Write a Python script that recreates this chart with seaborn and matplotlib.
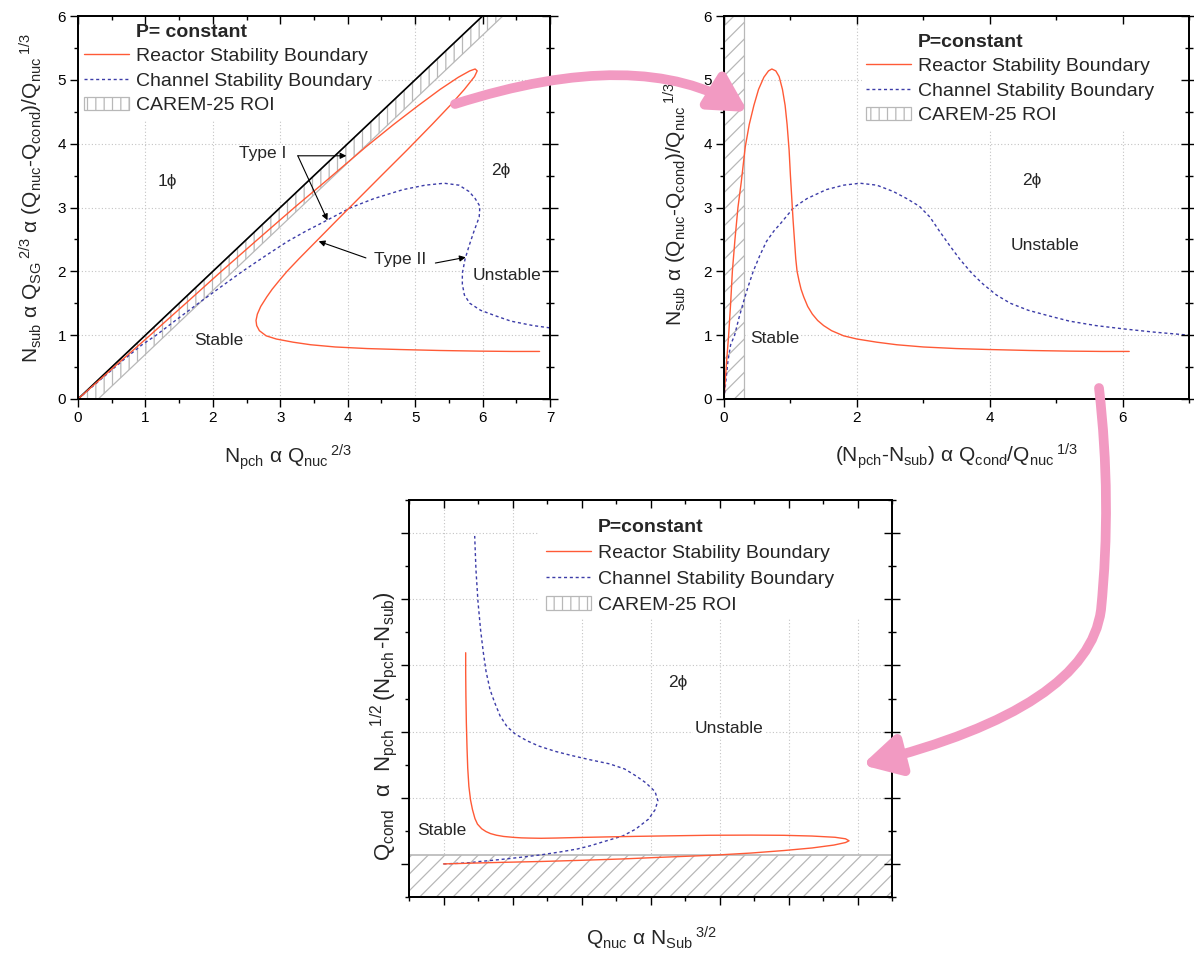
import numpy as np
import pandas as pd
import matplotlib
matplotlib.use("Agg")
import matplotlib.pyplot as plt
import seaborn as sns
from matplotlib.lines import Line2D
from matplotlib.patches import Patch, Rectangle, FancyArrowPatch, ArrowStyle
from matplotlib.path import Path

# Stability boundaries in the (N_pch - N_sub, N_sub) plane
reactor_dn = [0.00, 0.02, 0.04, 0.07, 0.10, 0.126, 0.165, 0.21, 0.26, 0.32, 0.38, 0.45,
              0.52, 0.60, 0.67, 0.72, 0.78, 0.83, 0.88, 0.92, 0.95, 0.98, 1.00, 1.02,
              1.04, 1.06, 1.08, 1.10, 1.13, 1.16, 1.20, 1.26, 1.33, 1.41, 1.50, 1.62,
              1.80, 2.00, 2.30, 2.60, 3.00, 3.50, 4.00, 4.60, 5.20, 5.70, 6.10]
reactor_nsub = [0.00, 0.30, 0.60, 1.00, 1.50, 2.00, 2.50, 3.00, 3.40, 3.95, 4.30, 4.60,
                4.85, 5.04, 5.14, 5.17, 5.14, 5.05, 4.85, 4.60, 4.30, 3.90, 3.50, 3.15,
                2.80, 2.50, 2.20, 2.00, 1.85, 1.72, 1.60, 1.45, 1.33, 1.23, 1.15, 1.07,
                0.99, 0.94, 0.89, 0.85, 0.815, 0.79, 0.775, 0.76, 0.75, 0.745, 0.745]

channel_dn = [0.00, 0.03, 0.06, 0.10, 0.16, 0.22, 0.29, 0.36, 0.44, 0.54, 0.64, 0.75,
              0.86, 1.05, 1.25, 1.54, 1.80, 2.05, 2.30, 2.55, 2.75, 2.94, 3.10, 3.25,
              3.40, 3.55, 3.73, 3.90, 4.10, 4.31, 4.58, 4.90, 5.20, 5.60, 6.00, 6.45,
              7.00, 7.60, 8.20]
channel_nsub = [0.00, 0.30, 0.60, 0.85, 1.00, 1.25, 1.51, 1.75, 2.00, 2.25, 2.47, 2.63,
                2.76, 3.00, 3.14, 3.28, 3.35, 3.38, 3.35, 3.25, 3.14, 3.02, 2.85, 2.62,
                2.40, 2.19, 1.97, 1.80, 1.63, 1.50, 1.39, 1.30, 1.22, 1.15, 1.10, 1.05,
                1.00, 0.96, 0.935]

# CAREM-25 region of interest: N_pch - N_sub between these bounds
roi_dn = [0.0, 0.3]
roi_qcond_top = 0.135      # top of the ROI band in the (Q_nuc, Q_cond) plane

# arbitrary scaling of the power axes (Q_nuc ~ N_sub^3/2, Q_cond ~ N_pch^1/2 (N_pch - N_sub))
qnuc_scale = 0.5
qcond_scale = 0.2

legend_labels = ["Reactor Stability Boundary", "Channel Stability Boundary", "CAREM-25 ROI"]

RED = "#ff5a36"
BLUE = "#3c3ca8"
PINK = "#f29ac2"
HATCH_GREY = "#b8b8b8"
GRID_GREY = "#c4c4c4"
DOTS = (0, (2.2, 2.0))


def planes(dn, nsub):
    dn = np.asarray(dn, float)
    nsub = np.asarray(nsub, float)
    npch = dn + nsub
    return pd.DataFrame({
        "dn": dn, "nsub": nsub, "npch": npch,
        "qnuc": qnuc_scale * nsub ** 1.5,
        "qcond": qcond_scale * np.sqrt(npch) * dn,
    })


reactor = planes(reactor_dn, reactor_nsub)
channel = planes(channel_dn, channel_nsub)

sns.set_theme(style="ticks")
plt.rcParams["font.family"] = ["Liberation Sans", "DejaVu Sans"]
plt.rcParams["mathtext.fontset"] = "custom"
plt.rcParams["mathtext.rm"] = "Liberation Sans"
plt.rcParams["mathtext.it"] = "Liberation Sans:italic"
plt.rcParams["mathtext.bf"] = "Liberation Sans:bold"
plt.rcParams["hatch.linewidth"] = 0.9

W, H = 1194, 956
fig = plt.figure(figsize=(W / 100, H / 100), dpi=100)


def fxy(x, y):
    return (x / W, 1 - y / H)


def px_axes(l, t, r, b):
    return fig.add_axes([l / W, 1 - b / H, (r - l) / W, (b - t) / H])


ax1 = px_axes(78, 16, 550, 399)
ax2 = px_axes(724, 16, 1189, 399)
ax3 = px_axes(409, 500, 892, 897)


def frame(ax, xlim, ylim, xmaj, xmin, ymaj, ymin, labels=True):
    ax.set_xlim(xlim)
    ax.set_ylim(ylim)
    ax.set_xticks(xmaj)
    ax.set_xticks(xmin, minor=True)
    ax.set_yticks(ymaj)
    ax.set_yticks(ymin, minor=True)
    ax.tick_params(which="both", direction="out", width=1.0, color="black",
                   labelsize=11, pad=2.5, top=False, right=False,
                   labelbottom=labels, labelleft=labels, labelcolor="black")
    ax.tick_params(which="major", length=6)
    ax.tick_params(which="minor", length=3)
    ax.set_axisbelow(True)
    ax.grid(True, which="major", color=GRID_GREY, linestyle=(0, (1, 2)), linewidth=0.8)
    for s in ax.spines.values():
        s.set_visible(True)
        s.set_linewidth(1.1)
        s.set_color("black")
    # top axis: inward ticks
    top = ax.twiny()
    top.set_xlim(xlim)
    top.set_xticks(xmaj)
    top.set_xticks(xmin, minor=True)
    top.tick_params(which="both", direction="in", width=1.0, color="black",
                    top=True, bottom=False, labeltop=False, labelbottom=False)
    top.tick_params(which="major", length=6)
    top.tick_params(which="minor", length=3)
    top.grid(False)
    # right axis: ticks crossing the frame
    right = ax.twinx()
    right.set_ylim(ylim)
    right.set_yticks(ymaj)
    right.set_yticks(ymin, minor=True)
    right.tick_params(which="both", direction="inout", width=1.0, color="black",
                      right=True, left=False, labelright=False, labelleft=False)
    right.tick_params(which="major", length=11.5)
    right.tick_params(which="minor", length=6)
    right.grid(False)
    for t in (top, right):
        for s in t.spines.values():
            s.set_linewidth(1.1)
            s.set_color("black")


def mask(ax, l, t, r, b):
    # white box behind a legend, hiding the grid there
    inv = ax.transAxes.inverted()
    (x0, y0) = inv.transform(fig.transFigure.transform(fxy(l, b)))
    (x1, y1) = inv.transform(fig.transFigure.transform(fxy(r, t)))
    ax.add_patch(Rectangle((x0, y0), x1 - x0, y1 - y0, transform=ax.transAxes,
                           facecolor="white", edgecolor="none", zorder=0.8))


def legend(ax, title, left, top, spacing):
    handles = [
        Line2D([], [], linestyle="none"),
        Line2D([], [], color=RED, lw=1.0),
        Line2D([], [], color=BLUE, lw=1.0, linestyle=DOTS),
        Patch(facecolor="white", edgecolor=HATCH_GREY, hatch="||", lw=0.9),
    ]
    leg = ax.legend(handles, [title] + legend_labels, loc="upper left",
                    bbox_to_anchor=fxy(left, top), bbox_transform=fig.transFigure,
                    frameon=False, fontsize=14, handlelength=2.3, handleheight=0.72,
                    handletextpad=0.36, labelspacing=spacing, borderpad=0,
                    borderaxespad=0)
    leg.get_texts()[0].set_fontweight("bold")
    leg.set_zorder(6)
    return leg


def label(ax, x, y, s, **kw):
    ax.text(x, y, s, fontsize=12.5, ha="center", va="center", zorder=1.5,
            bbox=dict(facecolor="white", edgecolor="none", pad=1.0), **kw)


def pointer(ax, tip, origin):
    ax.annotate("", xy=tip, xytext=origin,
                arrowprops=dict(arrowstyle="-|>", color="black", lw=0.8,
                                mutation_scale=9, shrinkA=0, shrinkB=0))


# ---------------- (N_pch, N_sub) plane ----------------
mask(ax1, 78, 16, 378, 120)
band_y = np.array([0.0, 6.0])
ax1.fill_betweenx(band_y, band_y + roi_dn[0], band_y + roi_dn[1], facecolor="white",
                  edgecolor=HATCH_GREY, hatch="||", lw=0.9, zorder=1)
sat = pd.DataFrame({"npch": band_y + roi_dn[0], "nsub": band_y})
sns.lineplot(data=sat, x="npch", y="nsub", color="black", lw=1.2, sort=False,
             estimator=None, ax=ax1)
sns.lineplot(data=channel, x="npch", y="nsub", color=BLUE, lw=1.0, linestyle=DOTS,
             sort=False, estimator=None, ax=ax1)
sns.lineplot(data=reactor, x="npch", y="nsub", color=RED, lw=1.0, sort=False,
             estimator=None, ax=ax1)
frame(ax1, (0, 7), (0, 6), np.arange(0, 8), np.arange(0.5, 7, 1.0),
      np.arange(0, 7), np.arange(0.5, 6, 1.0))
label(ax1, 1.33, 3.40, "1ϕ")
label(ax1, 6.27, 3.58, "2ϕ")
label(ax1, 2.74, 3.84, "Type I")
label(ax1, 4.78, 2.19, "Type II")
label(ax1, 6.36, 1.94, "Unstable")
label(ax1, 2.09, 0.92, "Stable")
pointer(ax1, (3.98, 3.81), (3.26, 3.81))
pointer(ax1, (3.70, 2.80), (3.26, 3.81))
pointer(ax1, (3.57, 2.47), (4.27, 2.21))
pointer(ax1, (5.75, 2.22), (5.30, 2.13))
legend(ax1, "P= constant", 84, 23.0, 0.35)
ax1.set_xlabel(r"$\mathregular{N_{pch}\ α\ Q_{nuc}\,{}^{2/3}}$", fontsize=15)
ax1.set_ylabel(r"$\mathregular{N_{sub}\ α\ Q_{SG}\,{}^{2/3}\ α\ (Q_{nuc}‐Q_{cond})/Q_{nuc}\,{}^{1/3}}$",
               fontsize=15)
ax1.xaxis.set_label_coords(*fxy(288, 457), transform=fig.transFigure)
ax1.yaxis.set_label_coords(*fxy(31, 198), transform=fig.transFigure)

# ---------------- (N_pch - N_sub, N_sub) plane ----------------
mask(ax2, 862, 16, 1189, 130)
ax2.axvspan(roi_dn[0], roi_dn[1], facecolor="white", edgecolor=HATCH_GREY,
            hatch="//", lw=0.9, zorder=1)
sns.lineplot(data=channel, x="dn", y="nsub", color=BLUE, lw=1.0, linestyle=DOTS,
             sort=False, estimator=None, ax=ax2)
sns.lineplot(data=reactor, x="dn", y="nsub", color=RED, lw=1.0, sort=False,
             estimator=None, ax=ax2)
frame(ax2, (0, 7), (0, 6), np.arange(0, 7, 2), np.arange(1, 8, 2),
      np.arange(0, 7), np.arange(0.5, 6, 1.0))
label(ax2, 4.63, 3.43, "2ϕ")
label(ax2, 4.83, 2.41, "Unstable")
label(ax2, 0.76, 0.95, "Stable")
legend(ax2, "P=constant", 866, 33.0, 0.35)
ax2.set_xlabel(r"$\mathregular{(N_{pch}‐N_{sub})\ α\ Q_{cond}/Q_{nuc}\,{}^{1/3}}$", fontsize=15)
ax2.set_ylabel(r"$\mathregular{N_{sub}\ α\ (Q_{nuc}‐Q_{cond})/Q_{nuc}\,{}^{1/3}}$", fontsize=15)
ax2.xaxis.set_label_coords(*fxy(957, 456), transform=fig.transFigure)
ax2.yaxis.set_label_coords(*fxy(675, 204), transform=fig.transFigure)

# ---------------- (Q_nuc, Q_cond) plane ----------------
mask(ax3, 538, 500, 892, 618)
ax3.axhspan(-0.5, roi_qcond_top, facecolor="white", edgecolor=HATCH_GREY,
            hatch="//", lw=1.2, zorder=1)
sns.lineplot(data=channel, x="qnuc", y="qcond", color=BLUE, lw=1.0, linestyle=DOTS,
             sort=False, estimator=None, ax=ax3)
sns.lineplot(data=reactor, x="qnuc", y="qcond", color=RED, lw=1.0, sort=False,
             estimator=None, ax=ax3)
frame(ax3, (-0.5, 6.5), (-0.5, 5.5), np.arange(0, 7), np.arange(-0.5, 7, 1.0),
      np.arange(0, 6), np.arange(-0.5, 6, 1.0), labels=False)
label(ax3, 3.40, 2.74, "2ϕ")
label(ax3, 4.14, 2.05, "Unstable")
label(ax3, -0.02, 0.51, "Stable")
legend(ax3, "P=constant", 546, 518.5, 0.42)
ax3.set_xlabel(r"$\mathregular{Q_{nuc}\ α\ N_{Sub}\,{}^{3/2}}$", fontsize=15)
ax3.set_ylabel(r"$\mathregular{Q_{cond}\ \ α\ \ N_{pch}\,{}^{1/2}\,(N_{pch}\,‐N_{sub})}$", fontsize=16)
ax3.xaxis.set_label_coords(*fxy(651, 938), transform=fig.transFigure)
ax3.yaxis.set_label_coords(*fxy(384, 726), transform=fig.transFigure)

for ax in (ax1, ax2, ax3):
    ax.xaxis.label.set_va("center")
    ax.yaxis.label.set_va("center")

# ---------------- arrows linking the three planes ----------------
head = ArrowStyle("-|>", head_length=1.1, head_width=0.6)
link1 = Path([fxy(455, 104), fxy(640, 45), fxy(748, 112)],
             [Path.MOVETO, Path.CURVE3, Path.CURVE3])
link2 = Path([fxy(1099, 388), fxy(1112, 500), fxy(1101, 610), fxy(1088, 708), fxy(862, 765)],
             [Path.MOVETO, Path.CURVE3, Path.CURVE3, Path.CURVE3, Path.CURVE3])
for p in (link1, link2):
    fig.add_artist(FancyArrowPatch(path=p, transform=fig.transFigure, arrowstyle=head,
                                   mutation_scale=20, lw=7, color=PINK, zorder=10))

fig.savefig("out.png", dpi=100)
